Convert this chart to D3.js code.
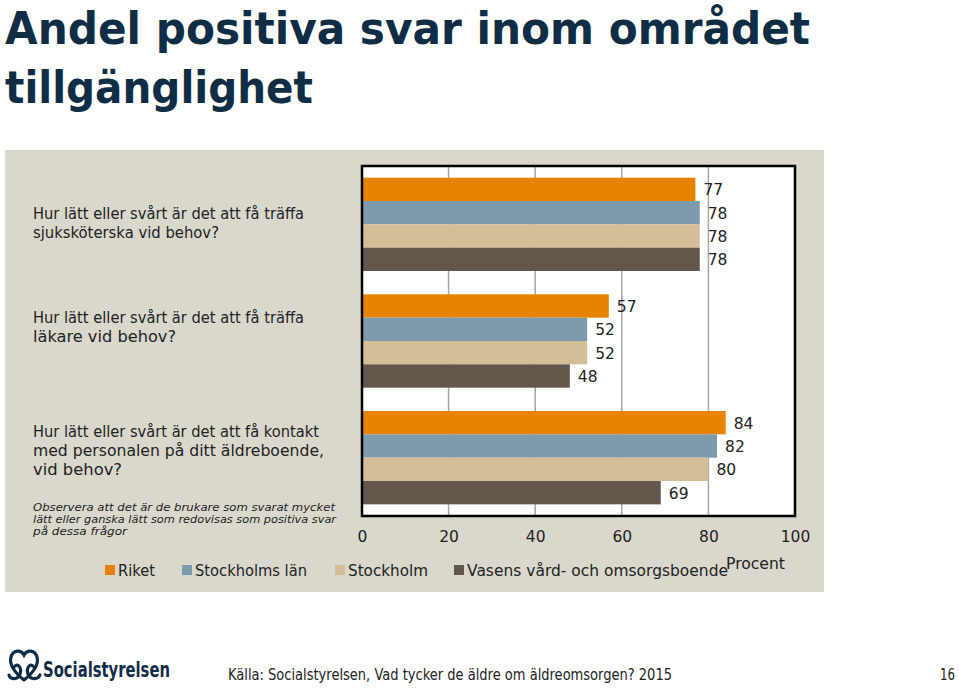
<!DOCTYPE html>
<html>
<head>
<meta charset="utf-8">
<script src="https://cdn.jsdelivr.net/npm/d3@7/dist/d3.min.js"></script>
<style>
  html, body { margin: 0; padding: 0; background: #ffffff; }
  svg { display: block; }
</style>
</head>
<body>
<script>
// ---------- DATA ----------
const categories = [
  ["Hur lätt eller svårt är det att få träffa", "sjuksköterska vid behov?"],
  ["Hur lätt eller svårt är det att få träffa", "läkare vid behov?"],
  ["Hur lätt eller svårt är det att få kontakt", "med personalen på ditt äldreboende,", "vid behov?"]
];
const seriesNames = ["Riket", "Stockholms län", "Stockholm", "Vasens vård- och omsorgsboende"];
const riket = [77, 57, 84];
const stockholmsLan = [78, 52, 82];
const stockholm = [78, 52, 80];
const vasens = [78, 48, 69];
const tickValues = [0, 20, 40, 60, 80, 100];
const titleLines = ["Andel positiva svar inom området", "tillgänglighet"];
const noteLines = ["Observera att det är de brukare som svarat mycket", "lätt eller ganska lätt som redovisas som positiva svar", "på dessa frågor"];
const axisTitle = "Procent";
const sourceText = "Källa: Socialstyrelsen, Vad tycker de äldre om äldreomsorgen? 2015";
const pageNumber = "16";
const logoText = "Socialstyrelsen";

const seriesValues = [riket, stockholmsLan, stockholm, vasens];
const colors = ["#E88300", "#7E9AAD", "#D4BE97", "#63564A"];

// ---------- LAYOUT ----------
const W = 959, H = 688;
const FONT = "'DejaVu Sans', sans-serif";
const svg = d3.select("body").append("svg").attr("width", W).attr("height", H);

function fit(sel, width) {
  if (width) sel.attr("textLength", width).attr("lengthAdjust", "spacingAndGlyphs");
  return sel;
}

// Title
const titleW = [805, 308];
const titleY = [44, 103];
titleLines.forEach((t, i) => {
  fit(svg.append("text").attr("x", 5).attr("y", titleY[i])
    .attr("font-family", FONT).attr("font-weight", "bold").attr("font-size", 45)
    .attr("fill", "#0F2D45").text(t), titleW[i]);
});

// Panel
svg.append("rect").attr("x", 5).attr("y", 150).attr("width", 819).attr("height", 442)
  .attr("fill", "#DAD8CD");

// Plot area
const x0 = 362, x1 = 795, yTop = 166, yBot = 516;
const x = d3.scaleLinear().domain([0, 100]).range([x0, x1]);
const y = d3.scaleBand().domain(d3.range(categories.length)).range([yTop, yBot])
  .paddingInner(0.2).paddingOuter(0.1);
const ys = d3.scaleBand().domain(d3.range(seriesNames.length)).range([0, y.bandwidth()]);

svg.append("rect").attr("x", x0).attr("y", yTop).attr("width", x1 - x0).attr("height", yBot - yTop)
  .attr("fill", "#ffffff");

// gridlines
svg.append("g").selectAll("line").data(tickValues.filter(v => v > 0 && v < 100)).join("line")
  .attr("x1", d => x(d)).attr("x2", d => x(d)).attr("y1", yTop).attr("y2", yBot)
  .attr("stroke", "#A6A6A6").attr("stroke-width", 1.5);

// bars
const groups = svg.append("g").selectAll("g").data(categories).join("g")
  .attr("transform", (d, i) => `translate(0,${y(i)})`);
groups.each(function(_, ci) {
  const g = d3.select(this);
  seriesValues.forEach((vals, si) => {
    g.append("rect").attr("x", x(0)).attr("y", ys(si))
      .attr("width", x(vals[ci]) - x(0)).attr("height", ys.bandwidth())
      .attr("fill", colors[si]);
    g.append("text").attr("x", x(vals[ci]) + 8).attr("y", ys(si) + ys.bandwidth() / 2 + 6)
      .attr("font-family", FONT).attr("font-size", 15.5).attr("fill", "#222")
      .text(vals[ci]);
  });
});

// frame
svg.append("rect").attr("x", x0).attr("y", yTop).attr("width", x1 - x0).attr("height", yBot - yTop)
  .attr("fill", "none").attr("stroke", "#000").attr("stroke-width", 2.5);

// x axis labels
const axis = d3.axisBottom(x).tickValues(tickValues).tickSize(0).tickPadding(0);
const ax = svg.append("g").attr("transform", `translate(0,${yBot + 15})`).call(axis);
ax.select(".domain").remove();
ax.selectAll("text").attr("font-family", FONT).attr("font-size", 15.5).attr("fill", "#222")
  .attr("dy", "0.71em");

// category labels
const qWidths = [[271, 186], [271, 143], [286, 291, 89]];
const qBase = [219, 323, 437];
categories.forEach((lines, ci) => {
  lines.forEach((t, li) => {
    fit(svg.append("text").attr("x", 33).attr("y", qBase[ci] + li * 19)
      .attr("font-family", FONT).attr("font-size", 15).attr("fill", "#222").text(t),
      qWidths[ci][li]);
  });
});

// note
const noteW = [302, 303, 94];
noteLines.forEach((t, i) => {
  fit(svg.append("text").attr("x", 33).attr("y", 511 + i * 12)
    .attr("font-family", FONT).attr("font-style", "italic").attr("font-size", 10.5)
    .attr("fill", "#222").text(t), noteW[i]);
});

// legend
const legX = [105, 182, 335, 454];
const legW = [37, 112, 80, 261];
seriesNames.forEach((n, i) => {
  svg.append("rect").attr("x", legX[i]).attr("y", 565).attr("width", 10).attr("height", 10)
    .attr("fill", colors[i]);
  fit(svg.append("text").attr("x", legX[i] + 13).attr("y", 576)
    .attr("font-family", FONT).attr("font-size", 15.5).attr("fill", "#222").text(n), legW[i]);
});

// axis title
fit(svg.append("text").attr("x", 726).attr("y", 569)
  .attr("font-family", FONT).attr("font-size", 15.5).attr("fill", "#222").text(axisTitle), 59);

// footer
fit(svg.append("text").attr("x", 228).attr("y", 680)
  .attr("font-family", FONT).attr("font-size", 15).attr("fill", "#222").text(sourceText), 444);
fit(svg.append("text").attr("x", 940).attr("y", 680)
  .attr("font-family", FONT).attr("font-size", 15).attr("fill", "#222").text(pageNumber), 15);

// logo
const logo = svg.append("g").attr("fill", "none").attr("stroke", "#0F2D45").attr("stroke-width", 3.2)
  .attr("stroke-linecap", "round");
logo.append("path").attr("d", "M24,680 C14,672 9,664 11,657 C13,650 21,649 24,655 C27,649 35,650 37,657 C39,664 34,672 24,680");
logo.append("path").attr("d", "M14,667 C18,662 22,668 20,674 C18,680 10,680 9,675");
logo.append("path").attr("d", "M34,667 C30,662 26,668 28,674 C30,680 38,680 40,675");
fit(svg.append("text").attr("x", 43).attr("y", 677)
  .attr("font-family", "'Liberation Sans Narrow', 'DejaVu Sans Condensed', sans-serif")
  .attr("font-weight", "bold").attr("font-size", 21).attr("fill", "#0F2D45").text(logoText), 127);
</script>
</body>
</html>
